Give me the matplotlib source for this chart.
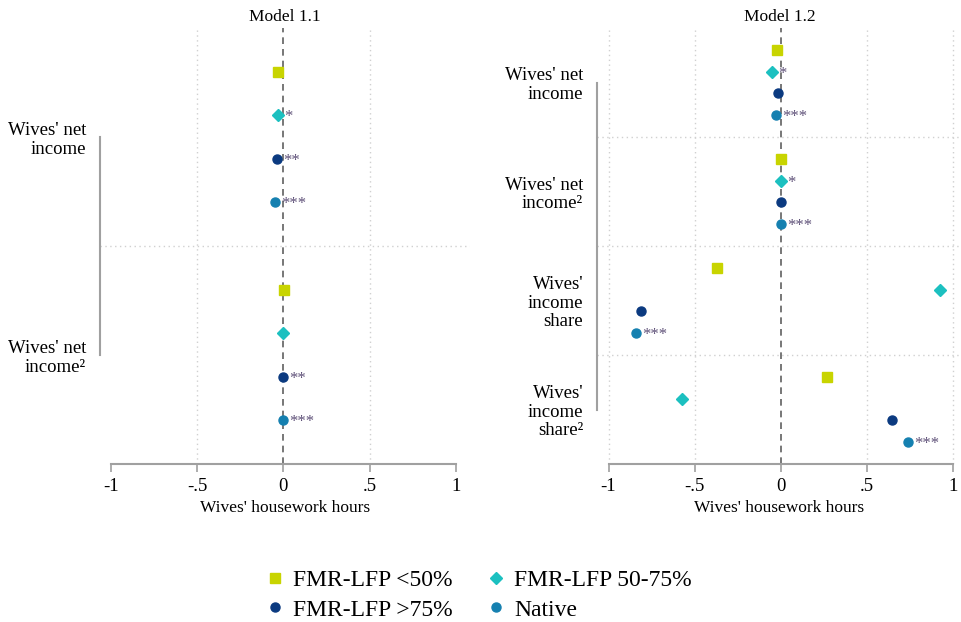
import matplotlib
matplotlib.use("Agg")
import matplotlib.pyplot as plt
from matplotlib.lines import Line2D

plt.rcParams['font.family'] = ['Liberation Serif', 'DejaVu Serif']

series = ["FMR-LFP <50%", "FMR-LFP 50-75%", "FMR-LFP >75%", "Native"]
colors = ["#c8d400", "#1cc0c0", "#0b3a80", "#1580b0"]
markers = ["s", "D", "o", "o"]
msizes = [7.0, 6.0, 6.5, 6.5]

# Model 1.1
m1_cats = ["Wives' net\nincome", "Wives' net\nincome\u00b2"]
m1_vals = [
    [-0.03, -0.033, -0.036, -0.048],
    [0.002, 0.0, 0.0, 0.0],
]
m1_stars = [
    ["", "*", "**", "***"],
    ["", "", "**", "***"],
]

# Model 1.2
m2_cats = ["Wives' net\nincome", "Wives' net\nincome\u00b2",
           "Wives'\nincome\nshare", "Wives'\nincome\nshare\u00b2"]
m2_vals = [
    [-0.023, -0.05, -0.017, -0.03],
    [0.0, 0.0, 0.0, 0.0],
    [-0.37, 0.92, -0.81, -0.84],
    [0.265, -0.575, 0.645, 0.735],
]
m2_stars = [
    ["", "*", "", "***"],
    ["", "*", "", "***"],
    ["", "", "", "***"],
    ["", "", "", "***"],
]

xticks = [-1, -0.5, 0, 0.5, 1]
xticklabels = ["-1", "-.5", "0", ".5", "1"]

W, H = 962, 622
fig = plt.figure(figsize=(W / 100, H / 100), dpi=100)

axis_col = "#a0a0a0"
grid_col = "#d0d0d0"


def panel(rect, title, cats, vals, stars, xlim, gridx):
    ax = fig.add_axes(rect)
    n = len(cats)
    ymax = n * 5
    ax.set_ylim(ymax, 0)
    ax.set_xlim(*xlim)
    for gx in gridx:
        ax.axvline(gx, color=grid_col, lw=1.0, ls=(0, (1, 2.5)), zorder=0)
    for g in range(1, n):
        ax.axhline(g * 5, color=grid_col, lw=1.0, ls=(0, (1, 2.5)), zorder=0)
    ax.axvline(0, color="#606060", lw=1.2, ls=(0, (4, 3)), zorder=1)
    for g in range(n):
        for s in range(4):
            y = g * 5 + s + 1
            x = vals[g][s]
            ax.plot([x], [y], marker=markers[s], ms=msizes[s], color=colors[s],
                    ls="none", zorder=3)
            if stars[g][s]:
                ax.annotate(stars[g][s], (x, y), xytext=(4.5, -1.5),
                            textcoords="offset points", ha="left", va="center",
                            fontsize=12, color="#5e5078", zorder=4)
    centers = [g * 5 + 2.5 for g in range(n)]
    ax.set_yticks(centers)
    ax.set_yticklabels(cats, fontsize=13.5, linespacing=1.12, ha="right")
    ax.tick_params(axis="y", length=0, pad=10)
    ax.set_xticks(xticks)
    ax.set_xticklabels(xticklabels, fontsize=13.5)
    ax.tick_params(axis="x", length=6, width=1.2, color=axis_col, pad=4)
    for sp in ["top", "right"]:
        ax.spines[sp].set_visible(False)
    ax.spines["left"].set_color(axis_col)
    ax.spines["left"].set_linewidth(1.5)
    ax.spines["left"].set_bounds(centers[0], centers[-1])
    ax.spines["bottom"].set_color(axis_col)
    ax.spines["bottom"].set_linewidth(1.5)
    ax.spines["bottom"].set_bounds(-1, 1)
    ax.set_xlabel("Wives' housework hours", fontsize=12.5, labelpad=4)
    ax.set_title(title, fontsize=12.5, pad=5)
    return ax


top = 28
bottom = 464
panel([100 / W, 1 - bottom / H, 370 / W, (bottom - top) / H], "Model 1.1",
      m1_cats, m1_vals, m1_stars, (-1.063, 1.082), [-0.5, 0.5])
panel([597 / W, 1 - bottom / H, 365 / W, (bottom - top) / H], "Model 1.2",
      m2_cats, m2_vals, m2_stars, (-1.067, 1.05), [-1, -0.5, 0.5, 1])

handles = [Line2D([], [], marker=markers[i], ms=msizes[i], color=colors[i], ls="none")
           for i in range(4)]
order = [0, 2, 1, 3]
fig.legend([handles[i] for i in order], [series[i] for i in order], ncol=2,
           loc="center", bbox_to_anchor=(477 / W, 1 - 595 / H), frameon=False,
           fontsize=17, handletextpad=0.2, columnspacing=1.3, labelspacing=0.35,
           handlelength=1.1, borderpad=0.2)

fig.savefig("out.png", dpi=100)
